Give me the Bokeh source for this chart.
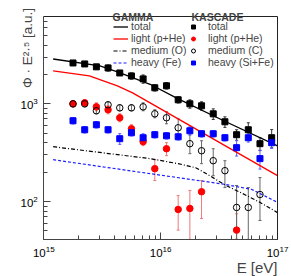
import math
from bokeh.plotting import figure
from bokeh.models import (ColumnDataSource, Whisker, TeeHead, Legend, LegendItem,
                          Label, Range1d, LogAxis, FixedTicker)
from bokeh.embed import file_html
from bokeh.resources import INLINE

FONT = "Liberation Sans"

# ---------------- KASCADE data (log10(E/eV)) ----------------
k_logE = [15.25, 15.35, 15.45, 15.55, 15.65, 15.75, 15.85, 15.95, 16.05,
          16.15, 16.25, 16.35, 16.45, 16.55, 16.65, 16.75, 16.85, 16.95]

tot_y = [2620, 2560, 2390, 2330, 2070, 1930, 1800, 1460, 1530,
         1100, 1000, 955, 790, 655, 483, 543, 391, 450]
tot_err = [126, 123, 115, 170, 99, 141, 176, 107, 112,
           80, 98, 94, 98, 81, 60, 97, 59, 95]

light_logE = [15.25, 15.35, 15.45, 15.55, 15.65, 15.75, 15.85, 15.95, 16.05,
              16.15, 16.25, 16.35, 16.65]
light_y = [1000, 1024, 932, 870, 720, 556, 410, 217, 347, 83, 85, 126, 51]
light_hi = [1073, 1099, 1024, 954, 791, 611, 450, 268, 400, 115, 130, 164, 75]
light_lo = [932, 954, 849, 791, 655, 506, 373, 164, 295, 51, 41, 67, 41]

med_logE = k_logE[:17]
med_y = [1000, 1000, 849, 977, 910, 910, 932, 791, 720,
         569, 391, 331, 262, 207, 87, 87, 118]
med_hi = [1073, 1073, 910, 1048, 977, 977, 1024, 869, 829,
          703, 494, 419, 347, 262, 146, 139, 176]
med_lo = [932, 932, 791, 910, 849, 849, 849, 720, 625,
          450, 309, 244, 184, 139, 41, 41, 64]

heavy_y = [671, 543, 611, 543, 440, 506, 450, 483, 471,
           460, 530, 494, 494, 450, 356, 450, 275, 400]
heavy_err = [49, 40, 45, 40, 55, 37, 44, 35, 34,
             34, 52, 36, 36, 33, 64, 44, 60, 50]

# ---------------- GAMMA model curves ----------------
g_tot_logE = [15.08, 15.48, 15.63, 15.91, 16.15, 16.54, 17.0]
g_tot_y = [2877, 2443, 2123, 1585, 1125, 671, 372]

g_light_logE = [15.08, 15.39, 15.63, 15.76, 15.91, 17.0]
g_light_y = [2173, 1932, 1528, 1294, 1023, 184]

g_med_logE = [15.08, 15.91, 16.15, 16.30, 16.42, 16.55, 16.70, 16.85, 17.0]
g_med_y = [364, 275, 244, 222, 184, 148, 121, 98, 77]

g_heavy_logE = [15.08, 15.91, 16.55, 16.78, 17.0]
g_heavy_y = [268, 193, 150, 133, 98]

gamma_labels = ["total", "light (p+He)", "medium (O)", "heavy (Fe)"]
kascade_labels = ["total", "light (p+He)", "medium (C)", "heavy (Si+Fe)"]

# axis extents of the plotted box
X_LO, X_HI = 1e15, 1e17
Y_LO, Y_HI = 40.6, 7830

W, H = 291, 276
FL, FR, FT, FB = 43.3, 277.0, 16.0, 239.3   # box edges in pixels
dx = (FR - FL) / 2.0                          # px per decade
dy = (FB - FT) / (math.log10(Y_HI) - math.log10(Y_LO))
x0 = 15 - FL / dx
x1 = 17 + (W - FR) / dx
y1 = math.log10(Y_HI) + FT / dy
y0 = math.log10(Y_LO) - (H - FB) / dy


def E(lst):
    return [10 ** v for v in lst]


p = figure(width=W, height=H, x_axis_type="log", y_axis_type="log",
           x_range=Range1d(10 ** x0, 10 ** x1), y_range=Range1d(10 ** y0, 10 ** y1),
           output_backend="svg", toolbar_location=None,
           min_border_left=0, min_border_right=0, min_border_top=0,
           min_border_bottom=0)
p.xgrid.visible = False
p.ygrid.visible = False
p.outline_line_color = None
p.background_fill_color = "white"
p.border_fill_color = "white"

xa, ya = p.xaxis[0], p.yaxis[0]
xa.fixed_location = Y_LO
xa.bounds = (X_LO, X_HI)
ya.fixed_location = X_LO
ya.bounds = (Y_LO, Y_HI)
for ax in (xa, ya):
    ax.major_tick_in = 7
    ax.major_tick_out = 0
    ax.minor_tick_in = 4
    ax.minor_tick_out = 0
    ax.axis_line_color = "#444444"
    ax.major_tick_line_color = "#444444"
    ax.minor_tick_line_color = "#444444"
    ax.major_label_text_font = FONT
    ax.major_label_text_font_size = "11.5px"
    ax.major_label_text_color = "black"
    ax.major_label_standoff = 6

top = LogAxis(fixed_location=Y_HI, bounds=(X_LO, X_HI), ticker=FixedTicker(ticks=[]),
              axis_line_color="#222222", major_tick_in=0, major_tick_out=0,
              minor_tick_in=0, minor_tick_out=0)
right = LogAxis(fixed_location=X_HI, bounds=(Y_LO, Y_HI), ticker=FixedTicker(ticks=[]),
                axis_line_color="#222222", major_tick_in=0, major_tick_out=0,
                minor_tick_in=0, minor_tick_out=0)
p.add_layout(top, "above")
p.add_layout(right, "right")

# GAMMA lines
r_gt = p.line(E(g_tot_logE), g_tot_y, line_color="black", line_width=1.3)
r_gl = p.line(E(g_light_logE), g_light_y, line_color="#ff0000", line_width=1.3)
r_gm = p.line(E(g_med_logE), g_med_y, line_color="black", line_width=1.2,
              line_dash="4 2 1 2")
r_gh = p.line(E(g_heavy_logE), g_heavy_y, line_color="#2020ff", line_width=1.2,
              line_dash="3 2")


def whisk(x, lo, hi, color):
    src = ColumnDataSource(dict(x=x, lo=lo, hi=hi))
    w = Whisker(source=src, base="x", lower="lo", upper="hi",
                line_color=color, line_width=1,
                upper_head=TeeHead(size=3, line_color=color, line_width=1),
                lower_head=TeeHead(size=3, line_color=color, line_width=1))
    p.add_layout(w)


whisk(E(k_logE), [a - b for a, b in zip(tot_y, tot_err)],
      [a + b for a, b in zip(tot_y, tot_err)], "#333333")
whisk(E(light_logE), light_lo, light_hi, "#f07878")
whisk(E(med_logE), med_lo, med_hi, "#666666")
whisk(E(k_logE), [a - b for a, b in zip(heavy_y, heavy_err)],
      [a + b for a, b in zip(heavy_y, heavy_err)], "#5a5aff")

r_kt = p.scatter(E(k_logE), tot_y, marker="square", size=6, color="black")
r_kl = p.scatter(E(light_logE), light_y, marker="circle", size=6.5, color="#ff0000")
r_km = p.scatter(E(med_logE), med_y, marker="circle", size=6.5, fill_alpha=0,
                 line_color="black", line_width=1)
r_kh = p.scatter(E(k_logE), heavy_y, marker="square", size=6, color="#0000ff")

leg_common = dict(padding=0, spacing=0, background_fill_alpha=0,
                  border_line_alpha=0, label_text_font=FONT,
                  label_text_font_size="10.5px", label_height=11,
                  glyph_height=11)
leg_g = Legend(items=[LegendItem(label=t, renderers=[r])
                      for t, r in zip(gamma_labels, [r_gt, r_gl, r_gm, r_gh])],
               location=(113, 208), glyph_width=15, label_standoff=3, **leg_common)
leg_k = Legend(items=[LegendItem(label=t, renderers=[r])
                      for t, r in zip(kascade_labels, [r_kt, r_kl, r_km, r_kh])],
               location=(188, 208), glyph_width=10, label_standoff=10, **leg_common)
p.add_layout(leg_g)
p.add_layout(leg_k)

scr = dict(x_units="screen", y_units="screen", text_font=FONT)
p.add_layout(Label(x=112, y=H - 16.5, text="GAMMA", text_font_size="10.5px",
                   text_font_style="bold", text_baseline="alphabetic", **scr))
p.add_layout(Label(x=191, y=H - 16.5, text="KASCADE", text_font_size="10.5px",
                   text_font_style="bold", text_baseline="alphabetic", **scr))

p.add_layout(Label(x=27, y=H - 47.5, text="Φ · E²·⁵ [a.u.]", text_font_size="13.5px",
                   text_align="center", text_baseline="middle", angle=math.pi / 2,
                   **scr))
p.add_layout(Label(x=FR, y=H - 267, text="E [eV]", text_font_size="15px",
                   text_align="right", text_baseline="alphabetic", **scr))

open("out.html", "w").write(file_html(p, INLINE))
